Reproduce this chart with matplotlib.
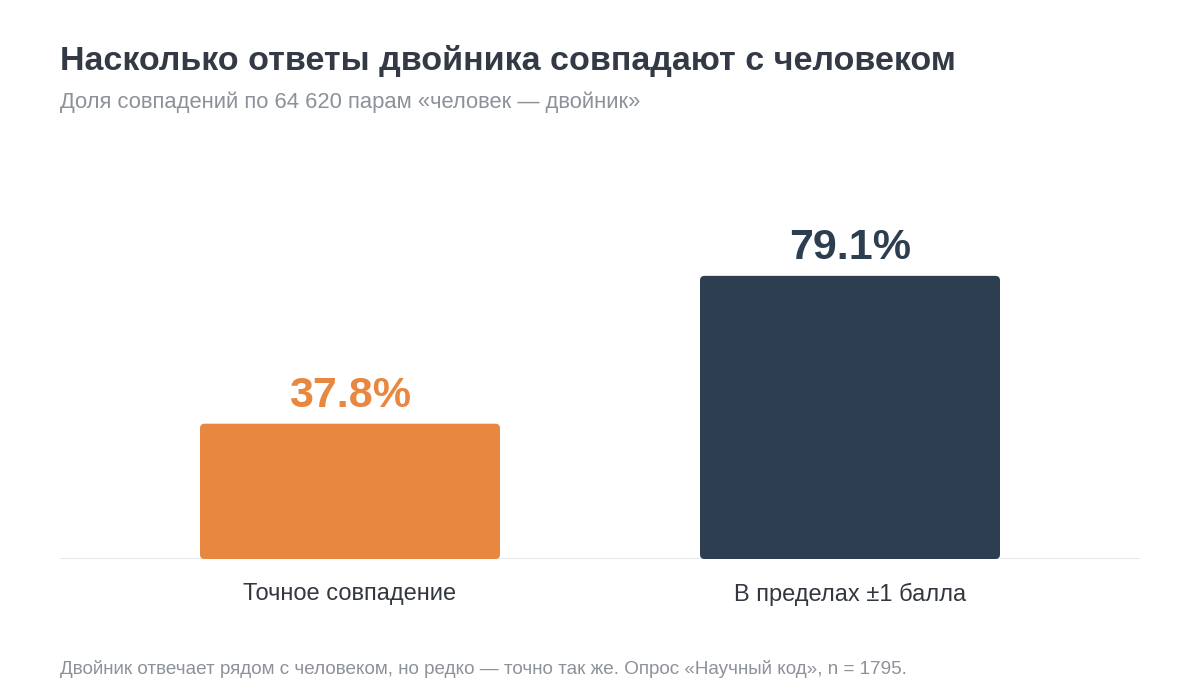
import matplotlib
matplotlib.use("Agg")
import matplotlib.pyplot as plt
from matplotlib.patches import FancyBboxPatch

plt.rcParams['font.family'] = ['Liberation Sans', 'DejaVu Sans']

categories = ["Точное совпадение", "В пределах ±1 балла"]
values = [37.8, 79.1]
value_labels = ["37.8%", "79.1%"]
colors = ["#E8873F", "#2C3E50"]

title = "Насколько ответы двойника совпадают с человеком"
subtitle = "Доля совпадений по 64 620 парам «человек — двойник»"
footnote = "Двойник отвечает рядом с человеком, но редко — точно так же. Опрос «Научный код», n = 1795."

fig = plt.figure(figsize=(12, 7), dpi=100)
fig.patch.set_facecolor("white")
ax = fig.add_axes([0.05, 0.2014, 0.9, 0.5114])
ax.set_xlim(-0.58, 1.58)
ax.set_ylim(0, 100)

bar_w = 0.6
xs = list(range(len(categories)))
bars = ax.bar(xs, values, width=bar_w, color=colors, alpha=0)
rx = 0.009
ry = 1.3
for b, c in zip(bars, colors):
    p = FancyBboxPatch((b.get_x(), 0), b.get_width(), b.get_height(),
                       boxstyle=f"round,pad=0,rounding_size={rx}",
                       mutation_aspect=ry / rx, facecolor=c, edgecolor="none")
    ax.add_patch(p)

for x, v, lab, c in zip(xs, values, value_labels, colors):
    ax.text(x, v + 4.7, lab, ha="center", va="baseline", fontsize=31,
            fontweight="bold", color=c)

ax.axhline(0, color="#E3E3E3", lw=1.2, zorder=0)
for s in ax.spines.values():
    s.set_visible(False)
ax.set_yticks([])
ax.set_xticks(xs)
ax.set_xticklabels(categories, fontsize=17, color="#333840")
ax.tick_params(axis="x", length=0, pad=17)

fig.text(0.05, 1 - 70 / 700, title, fontsize=24.5, fontweight="bold",
         color="#333A45", ha="left", va="baseline")
fig.text(0.05, 1 - 108 / 700, subtitle, fontsize=15.8, color="#8C919A",
         ha="left", va="baseline")
fig.text(0.05, 1 - 674 / 700, footnote, fontsize=13.6, color="#8C919A",
         ha="left", va="baseline")

fig.savefig("out.png", dpi=100, facecolor="white")
